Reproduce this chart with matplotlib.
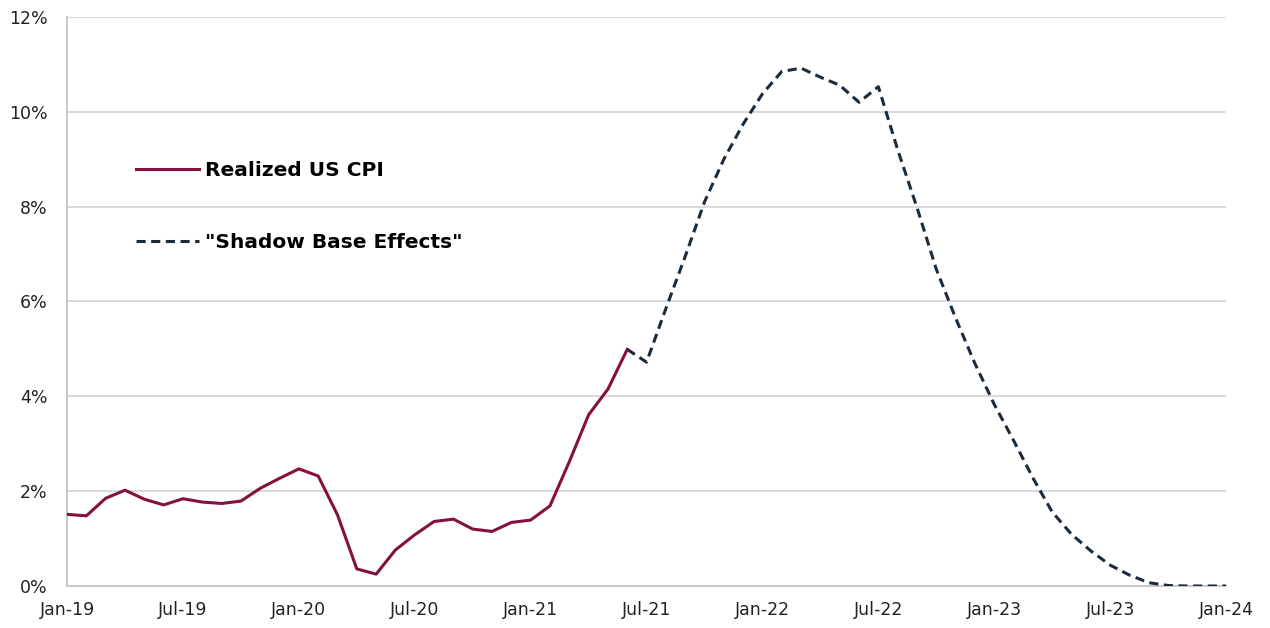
import numpy as np
import matplotlib
matplotlib.use("Agg")
import matplotlib.pyplot as plt
from matplotlib.ticker import FuncFormatter

# monthly YoY CPI, Jan-19 .. Jun-21
realized_cpi = [1.51, 1.48, 1.85, 2.02, 1.83, 1.71, 1.84, 1.77, 1.74, 1.79,
                2.06, 2.27, 2.47, 2.32, 1.50, 0.36, 0.25, 0.76, 1.08, 1.36,
                1.41, 1.20, 1.15, 1.34, 1.39, 1.69, 2.62, 3.61, 4.15, 4.99]

# "shadow base effects", Jun-21 .. Jan-24
shadow_start = 29
shadow_base = [4.99, 4.72, 5.85, 6.95, 8.10, 9.00, 9.74, 10.38, 10.85, 10.92,
               10.73, 10.56, 10.20, 10.53, 9.20, 7.98, 6.68, 5.65, 4.69, 3.83,
               3.07, 2.28, 1.56, 1.09, 0.74, 0.44, 0.23, 0.07, 0.01, 0.0,
               0.0, 0.0]

tick_months = list(range(0, 61, 6))
tick_labels = ['Jan-19', 'Jul-19', 'Jan-20', 'Jul-20', 'Jan-21', 'Jul-21',
               'Jan-22', 'Jul-22', 'Jan-23', 'Jul-23', 'Jan-24']

plt.rcParams['font.family'] = ['DejaVu Sans']

fig = plt.figure(figsize=(12.7, 6.28), dpi=100)
ax = fig.add_axes([0.0528, 0.0669, 0.9126, 0.9061])

x_real = np.arange(len(realized_cpi))
x_shadow = np.arange(shadow_start, shadow_start + len(shadow_base))

ax.plot(x_shadow, shadow_base, color='#1c2b3c', lw=2.2, dashes=(3, 1.8),
        label='"Shadow Base Effects"', zorder=3)
ax.plot(x_real, realized_cpi, color='#84103f', lw=2.2,
        label='Realized US CPI', zorder=4)

ax.set_xlim(0, 60)
ax.set_ylim(0, 12)
ax.set_yticks(range(0, 13, 2))
ax.yaxis.set_major_formatter(FuncFormatter(lambda v, p: '%d%%' % v))
ax.set_xticks(tick_months)
ax.set_xticklabels(tick_labels)
ax.tick_params(axis='both', length=0, labelsize=12.5, colors='#222222')
ax.tick_params(axis='x', pad=11)
ax.tick_params(axis='y', pad=14)

ax.grid(axis='y', color='#d9d9d9', lw=1.4)
ax.set_axisbelow(True)
for side in ['top', 'right']:
    ax.spines[side].set_visible(False)
for side in ['left', 'bottom']:
    ax.spines[side].set_color('#c8c8c8')
    ax.spines[side].set_linewidth(1.4)

handles, labels = ax.get_legend_handles_labels()
leg = ax.legend(handles[::-1], labels[::-1], loc='upper left',
                bbox_to_anchor=(0.044, 0.779), frameon=False,
                prop={'weight': 'bold', 'size': 14.5}, handlelength=3.1,
                handletextpad=0.3, labelspacing=2.65)

fig.savefig('out.png', dpi=100)
